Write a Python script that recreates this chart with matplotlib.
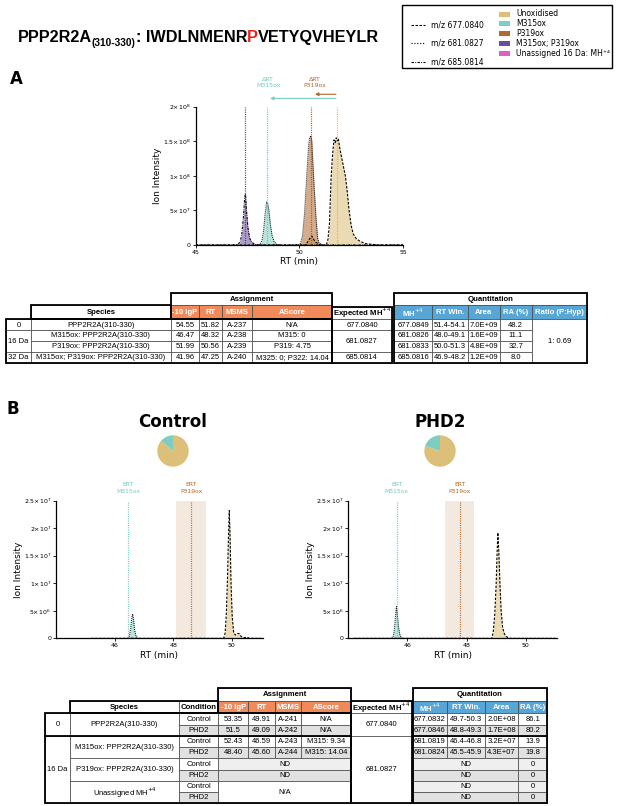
import matplotlib
matplotlib.use("Agg")
import matplotlib.pyplot as plt
from matplotlib.patches import Rectangle

W, H = 617, 806
TFONT = "Liberation Sans"

UNOX = "#dcbf78"
M315 = "#7ccfc0"
P319 = "#b2682c"
BOTH = "#6a4b9d"
UNAS = "#e060c2"
ORANGE = "#f08a5b"
BLUE = "#58a6d6"
GREY = "#e1e1e1"
LGREY = "#efefef"

DASH = (0, (2.2, 1.4))
DOT = (0, (0.8, 1.0))
DASHDOT = (0, (2.2, 1.0, 0.6, 1.0))

# ---- header / legend
title_parts = [("PPP2R2A", "k", False), ("(310-330)", "k", True), (": IWDLNMENR", "k", False),
               ("P", "#e8231f", False), ("VETYQVHEYLR", "k", False)]
mz_labels = ["m/z 677.0840", "m/z 681.0827", "m/z 685.0814"]
mz_styles = [(0, (2.2, 1.4)), (0, (1.0, 1.6)), (0, (2.2, 1.2, 0.8, 1.2))]
species_labels = ["Unoxidised", "M315ox", "P319ox", "M315ox; P319ox", "Unassigned 16 Da: MH⁺⁴"]
species_colors = [UNOX, M315, P319, BOTH, UNAS]

# ---- panel A chromatograms (RT min, intensity x1e6)
a_unox_rt = [45.0, 47.0, 49.0, 50.3, 50.5, 50.6, 50.75, 51.0, 51.3, 51.38, 51.45, 51.53, 51.6, 51.67,
             51.73, 51.78, 51.83, 51.88, 51.95, 52.05, 52.15, 52.22, 52.3, 52.4, 52.5, 52.6, 52.75,
             52.95, 53.2, 53.5, 53.8, 55.0]
a_unox_i = [0, 0, 0, 0, 9, 13, 5, 0, 0, 8, 30, 96, 130, 152,
            148, 155, 150, 154, 140, 125, 110, 100, 80, 50, 28, 16, 9,
            5, 2, 1, 0, 0]
a_p319_rt = [49.95, 50.05, 50.15, 50.25, 50.35, 50.45, 50.5, 50.55, 50.6, 50.65, 50.72, 50.8, 50.88,
             50.95, 51.1]
a_p319_i = [0, 2, 12, 45, 96, 145, 155, 158, 150, 120, 80, 40, 10, 3, 0]
a_m315_rt = [47.95, 48.1, 48.2, 48.28, 48.35, 48.42, 48.47, 48.53, 48.6, 48.68, 48.78, 48.9, 49.05]
a_m315_i = [0, 1, 6, 22, 45, 62, 60, 50, 30, 14, 5, 1, 0]
a_both_rt = [45.0, 46.9, 47.05, 47.15, 47.22, 47.3, 47.36, 47.4, 47.45, 47.52, 47.6, 47.7, 47.85, 48.0, 55.0]
a_both_i = [0, 0, 1, 5, 15, 40, 68, 74, 50, 25, 10, 4, 1, 0, 0]
a_ert = [47.39, 48.45, 50.56, 51.83]

# ---- panel B chromatograms (RT min, intensity x1e6)
c_m315_rt = [46.45, 46.5, 46.55, 46.58, 46.61, 46.64, 46.68, 46.73, 46.8]
c_m315_i = [0, 0.4, 1.8, 3.5, 4.4, 3.6, 1.5, 0.4, 0]
c_unox_rt = [45.2, 49.72, 49.77, 49.81, 49.85, 49.88, 49.91, 49.94, 49.97, 50.01, 50.06, 50.12, 50.2,
             50.26, 50.32, 50.4, 50.5, 50.6, 51.0]
c_unox_i = [0, 0, 1, 4.5, 11, 18, 23.2, 18, 10, 4, 1, 0.6, 0.9, 0.8, 0.3, 0.1, 0.2, 0, 0]
c_ert = [46.45, 48.62]
c_window = [48.1, 49.1]

p_m315_rt = [45.48, 45.53, 45.57, 45.6, 45.63, 45.66, 45.7, 45.75, 45.82]
p_m315_i = [0, 0.5, 2.2, 4.2, 5.75, 4.3, 2.0, 0.5, 0]
p_unox_rt = [44.2, 48.85, 48.9, 48.95, 49.0, 49.03, 49.06, 49.09, 49.13, 49.17, 49.22, 49.28, 49.35,
             49.45, 51.0]
p_unox_i = [0, 0, 1, 4, 9.5, 15, 19.2, 16, 10, 5, 2, 0.8, 0.3, 0, 0]
p_ert = [45.64, 47.77]
p_window = [47.26, 48.25]

# ---- table A
tA_groups = ["0", "16 Da", "32 Da"]
tA_group_rows = [1, 2, 1]
tA_species = ["PPP2R2A(310-330)", "M315ox: PPP2R2A(310-330)", "P319ox: PPP2R2A(310-330)",
              "M315ox; P319ox: PPP2R2A(310-330)"]
tA_lgp = ["54.55", "46.47", "51.99", "41.96"]
tA_rt = ["51.82", "48.32", "50.56", "47.25"]
tA_msms = ["A-237", "A-238", "A-239", "A-240"]
tA_ascore = ["N/A", "M315: 0", "P319: 4.75", "M325: 0; P322: 14.04"]
tA_expected = ["677.0840", "681.0827", "685.0814"]
tA_mh = ["677.0849", "681.0826", "681.0833", "685.0816"]
tA_rtwin = ["51.4-54.1", "48.0-49.1", "50.0-51.3", "46.9-48.2"]
tA_area = ["7.0E+09", "1.6E+09", "4.8E+09", "1.2E+09"]
tA_ra = ["48.2", "11.1", "32.7", "8.0"]
tA_ratio = "1: 0.69"

# ---- table B
tB_groups = ["0", "16 Da"]
tB_group_rows = [2, 6]
tB_species = ["PPP2R2A(310-330)", "M315ox: PPP2R2A(310-330)", "P319ox: PPP2R2A(310-330)",
              "Unassigned MH$^{+4}$"]
tB_condition = ["Control", "PHD2"] * 4
tB_lgp = ["53.35", "51.5", "52.43", "48.40"]
tB_rt = ["49.91", "49.09", "46.59", "45.60"]
tB_msms = ["A-241", "A-242", "A-243", "A-244"]
tB_ascore = ["N/A", "N/A", "M315: 9.34", "M315: 14.04"]
tB_expected = ["677.0840", "681.0827"]
tB_expected_rows = [2, 6]
tB_mh = ["677.0832", "677.0846", "681.0819", "681.0824"]
tB_rtwin = ["49.7-50.3", "48.8-49.3", "46.4-46.8", "45.5-45.9"]
tB_area = ["2.0E+08", "1.7E+08", "3.2E+07", "4.3E+07"]
tB_ra = ["86.1", "80.2", "13.9", "19.8", "0", "0", "0", "0"]

fig = plt.figure(figsize=(W / 100, H / 100), dpi=100)
ov = fig.add_axes([0, 0, 1, 1])
ov.set_xlim(0, W)
ov.set_ylim(H, 0)
ov.axis("off")
rend = fig.canvas.get_renderer()


def px_axes(x0, y0, x1, y1):
    return fig.add_axes([x0 / W, 1 - y1 / H, (x1 - x0) / W, (y1 - y0) / H])


def cell(x0, x1, y0, y1, text="", face="white", color="k", bold=False, fs=5.5, lw=0.5):
    ov.add_patch(Rectangle((x0, y0), x1 - x0, y1 - y0, facecolor=face, edgecolor="#444444", lw=lw))
    if text:
        ov.text((x0 + x1) / 2, (y0 + y1) / 2 + 0.3, text, ha="center", va="center", fontsize=fs,
                color=color, fontweight="bold" if bold else "normal", family=TFONT)


def frame(x0, x1, y0, y1, lw=1.3):
    ov.add_patch(Rectangle((x0, y0), x1 - x0, y1 - y0, fill=False, edgecolor="k", lw=lw, zorder=5))


# ---- title: measure once, then scale the font so it spans the same width as the reference
def draw_title(fs, draw=True):
    x = 17.7
    made = []
    for txt, col, sub in title_parts:
        t = ov.text(x, 42 if not sub else 46.5, txt, fontsize=fs * (0.62 if sub else 1),
                    fontweight="bold", color=col, va="baseline", ha="left", family="Liberation Sans")
        x += t.get_window_extent(renderer=rend).width
        made.append(t)
    if not draw:
        for t in made:
            t.remove()
    return x - 17.7


tw = draw_title(12, draw=False)
draw_title(12 * 360 / tw)

# ---- legend
frame(402, 612, 5, 68, lw=1.0)
for y, lab, st in zip([25, 43.3, 61.7], mz_labels, mz_styles):
    ov.plot([411, 425], [y, y], ls=st, color="k", lw=0.8)
    ov.text(431, y, lab, fontsize=5.5, va="center")
for y, lab, c in zip([14, 23.3, 33.3, 43.3, 53.3], species_labels, species_colors):
    ov.add_patch(Rectangle((499, y - 2.5), 11, 5, color=c, lw=0))
    ov.text(516, y, lab, fontsize=5.5, va="center")

ov.text(16, 79, "A", fontsize=12, fontweight="bold", ha="center", va="center")
ov.text(13, 409, "B", fontsize=12, fontweight="bold", ha="center", va="center")


def style_chart(ax, xlim, xt, ytop, yt, ylabs, ylab_x, xlab_y):
    ax.set_xlim(*xlim)
    ax.set_ylim(0, ytop)
    for s in ("top", "right"):
        ax.spines[s].set_visible(False)
    for s in ("left", "bottom"):
        ax.spines[s].set_linewidth(0.9)
    ax.set_xticks(xt)
    ax.set_yticks(yt)
    ax.set_yticklabels(ylabs)
    ax.tick_params(length=2, width=0.6, labelsize=4.5, pad=1.5)
    ax.set_ylabel("Ion Intensity", fontsize=6.5)
    ax.set_xlabel("RT (min)", fontsize=6.5)
    ax.yaxis.set_label_coords(ylab_x, 0.5)
    ax.xaxis.set_label_coords(0.5, xlab_y)
    ax.patch.set_alpha(0)


def trace(ax, rt, inten, col, ls):
    y = [v * 1e6 for v in inten]
    ax.fill_between(rt, y, color=col, alpha=0.55, lw=0)
    ax.plot(rt, y, color="k", ls=ls, lw=0.8)


# ---- panel A chart
axA = px_axes(195.7, 106.7, 403, 245)
trace(axA, a_unox_rt, a_unox_i, UNOX, DASH)
trace(axA, a_p319_rt, a_p319_i, P319, DOT)
trace(axA, a_m315_rt, a_m315_i, M315, DOT)
trace(axA, a_both_rt, a_both_i, BOTH, DASHDOT)
for rt, c in zip(a_ert, ["#4b3480", "#5cc4b4", "#a0561a", "#eba654"]):
    axA.plot([rt, rt], [0, 2e8], ls=DOT, color=c, lw=0.9, clip_on=False)
axA.annotate("", xy=(50.62, 2.18e8), xytext=(51.9, 2.18e8), annotation_clip=False,
             arrowprops=dict(arrowstyle="-|>", color=P319, lw=0.8, mutation_scale=5))
axA.annotate("", xy=(48.45, 2.12e8), xytext=(51.9, 2.12e8), annotation_clip=False,
             arrowprops=dict(arrowstyle="-|>", color=M315, lw=0.8, mutation_scale=5))
for xx, lab, c in [(48.5, "M315ox", "#6ccbbd"), (50.75, "P319ox", P319)]:
    axA.text(xx, 2.40e8, "ΔRT", fontsize=4.5, color=c, ha="center", va="center")
    axA.text(xx, 2.30e8, lab, fontsize=4.5, color=c, ha="center", va="center")
style_chart(axA, (45, 55), [45, 50, 55], 2e8, [0, 5e7, 1e8, 1.5e8, 2e8],
            ["0", r"$5{\times}10^7$", r"$1{\times}10^8$", r"$1.5{\times}10^8$", r"$2{\times}10^8$"],
            -(195.7 - 162) / 207.3, -0.09)

# ---- table A
ya0, rha = 319.3, 10.85
ax_cols = [6, 30.7, 171, 199, 222.4, 252, 332]
aq_cols = [394, 432, 467.7, 500, 531.5, 587]
cell(171, 332, 293.3, 305, "Assignment", bold=True, fs=5.6)
cell(394, 587, 293.3, 305, "Quantitation", bold=True, fs=5.6)
cell(30.7, 171, 305, 319.3, "Species", bold=True, fs=5.6)
for i, lab in enumerate(["-10 lgP", "RT", "MSMS", "AScore"]):
    cell(ax_cols[2 + i], ax_cols[3 + i], 305, 319.3, lab, face=ORANGE, color="white", bold=True, fs=5.6)
cell(332, 392, 306.7, 319.3, "Expected MH$^{+4}$", bold=True, fs=5.6)
for i, lab in enumerate(["MH$^{+4}$", "RT Win.", "Area", "RA (%)", "Ratio (P:Hyp)"]):
    cell(aq_cols[i], aq_cols[i + 1], 305, 319.3, lab, face=BLUE, color="white", bold=True, fs=5.6)
r0 = 0
for g, n, ex in zip(tA_groups, tA_group_rows, tA_expected):
    cell(6, 30.7, ya0 + r0 * rha, ya0 + (r0 + n) * rha, g)
    cell(332, 392, ya0 + r0 * rha, ya0 + (r0 + n) * rha, ex)
    r0 += n
for r in range(4):
    y0, y1 = ya0 + r * rha, ya0 + (r + 1) * rha
    vals = [tA_species[r], tA_lgp[r], tA_rt[r], tA_msms[r], tA_ascore[r]]
    for i, v in enumerate(vals):
        cell(ax_cols[1 + i], ax_cols[2 + i], y0, y1, v)
    for i, v in enumerate([tA_mh[r], tA_rtwin[r], tA_area[r], tA_ra[r]]):
        cell(aq_cols[i], aq_cols[i + 1], y0, y1, v)
cell(531.5, 587, ya0, ya0 + 4 * rha, tA_ratio)
frame(6, 332, ya0, ya0 + 4 * rha)
frame(30.7, 171, 305, 319.3)
frame(171, 332, 293.3, 319.3)
frame(332, 392, 306.7, ya0 + 4 * rha)
frame(394, 587, 293.3, ya0 + 4 * rha)

# ---- panel B titles and pies
for cx, name, ra in [(173, "Control", tB_ra[0::2]), (440, "PHD2", tB_ra[1::2])]:
    ov.text(cx, 422, name, fontsize=12, fontweight="bold", ha="center", va="center")
    r = 16
    axp = px_axes(cx - r, 451 - r, cx + r, 451 + r)
    axp.pie([float(ra[1]), float(ra[0])], colors=[M315, UNOX], startangle=90, counterclock=True,
            wedgeprops=dict(lw=0))
    axp.set_xlim(-1.02, 1.02)
    axp.set_ylim(-1.02, 1.02)

# ---- panel B charts
for x0, x1, m_rt, m_i, u_rt, u_i, ert, win in [
        (56, 262.7, c_m315_rt, c_m315_i, c_unox_rt, c_unox_i, c_ert, c_window),
        (348.3, 556.7, p_m315_rt, p_m315_i, p_unox_rt, p_unox_i, p_ert, p_window)]:
    ax = px_axes(x0, 500.7, x1, 638.3)
    ax.axvspan(win[0], win[1], color="#f3e9de", lw=0, zorder=0)
    trace(ax, u_rt, u_i, UNOX, DASH)
    trace(ax, m_rt, m_i, M315, DOT)
    for rt, c, lab in zip(ert, ["#6ccbbd", "#b8641f"], ["M315ox", "P319ox"]):
        ax.plot([rt, rt], [0, 2.5e7], ls=DOT, color=c, lw=0.9)
        ax.text(rt, 2.80e7, "ERT", fontsize=4.3, color=c, ha="center", va="center")
        ax.text(rt, 2.66e7, lab, fontsize=4.3, color=c, ha="center", va="center")
    style_chart(ax, (44.0, 51.05), [46, 48, 50], 2.5e7, [0, 5e6, 1e7, 1.5e7, 2e7, 2.5e7],
                ["0", r"$5{\times}10^6$", r"$1{\times}10^7$", r"$1.5{\times}10^7$", r"$2{\times}10^7$",
                 r"$2.5{\times}10^7$"],
                -33 / (x1 - x0), -0.09)

# ---- table B
yb0, rhb = 713.3, 11.25
bx_cols = [45, 70, 179, 218.3, 248, 275, 301, 350.7]
bq_cols = [412.7, 446.7, 485, 518.3, 547.3]
cell(218.3, 350.7, 688.3, 701, "Assignment", bold=True, fs=5.6)
cell(412.7, 547.3, 688.3, 701, "Quantitation", bold=True, fs=5.6)
cell(70, 179, 701, 713.3, "Species", bold=True, fs=5.6)
cell(179, 218.3, 701, 713.3, "Condition", bold=True, fs=5.6)
for i, lab in enumerate(["-10 lgP", "RT", "MSMS", "AScore"]):
    cell(bx_cols[3 + i], bx_cols[4 + i], 701, 713.3, lab, face=ORANGE, color="white", bold=True, fs=5.6)
cell(350.7, 411.7, 701, 713.3, "Expected MH$^{+4}$", bold=True, fs=5.6)
for i, lab in enumerate(["MH$^{+4}$", "RT Win.", "Area", "RA (%)"]):
    cell(bq_cols[i], bq_cols[i + 1], 701, 713.3, lab, face=BLUE, color="white", bold=True, fs=5.6)
r0 = 0
for g, n in zip(tB_groups, tB_group_rows):
    cell(45, 70, yb0 + r0 * rhb, yb0 + (r0 + n) * rhb, g)
    r0 += n
r0 = 0
for ex, n in zip(tB_expected, tB_expected_rows):
    cell(350.7, 411.7, yb0 + r0 * rhb, yb0 + (r0 + n) * rhb, ex)
    r0 += n
for k, sp in enumerate(tB_species):
    cell(70, 179, yb0 + 2 * k * rhb, yb0 + (2 * k + 2) * rhb, sp)
for r in range(8):
    y0, y1 = yb0 + r * rhb, yb0 + (r + 1) * rhb
    face = GREY if r % 2 else "white"
    nd_face = GREY if r % 2 else LGREY
    cell(179, 218.3, y0, y1, tB_condition[r], face=face)
    if r < 4:
        for i, v in enumerate([tB_lgp[r], tB_rt[r], tB_msms[r], tB_ascore[r]]):
            cell(bx_cols[3 + i], bx_cols[4 + i], y0, y1, v, face=face)
        for i, v in enumerate([tB_mh[r], tB_rtwin[r], tB_area[r]]):
            cell(bq_cols[i], bq_cols[i + 1], y0, y1, v, face=face)
    else:
        if r < 6:
            cell(218.3, 350.7, y0, y1, "ND", face=nd_face)
        cell(412.7, 518.3, y0, y1, "ND", face=nd_face)
    cell(518.3, 547.3, y0, y1, tB_ra[r], face=face if r < 4 else nd_face)
cell(218.3, 350.7, yb0 + 6 * rhb, yb0 + 8 * rhb, "N/A")
frame(45, 350.7, yb0, yb0 + 8 * rhb)
frame(70, 218.3, 701, 713.3)
frame(218.3, 350.7, 688.3, 713.3)
frame(350.7, 411.7, 701, yb0 + 8 * rhb)
frame(412.7, 547.3, 688.3, yb0 + 8 * rhb)
ov.plot([45, 350.7], [yb0 + 2 * rhb] * 2, color="k", lw=1.3, zorder=5)
ov.plot([412.7, 547.3], [yb0 + 2 * rhb] * 2, color="k", lw=1.3, zorder=5)

fig.savefig("out.png", dpi=100, facecolor="white")
